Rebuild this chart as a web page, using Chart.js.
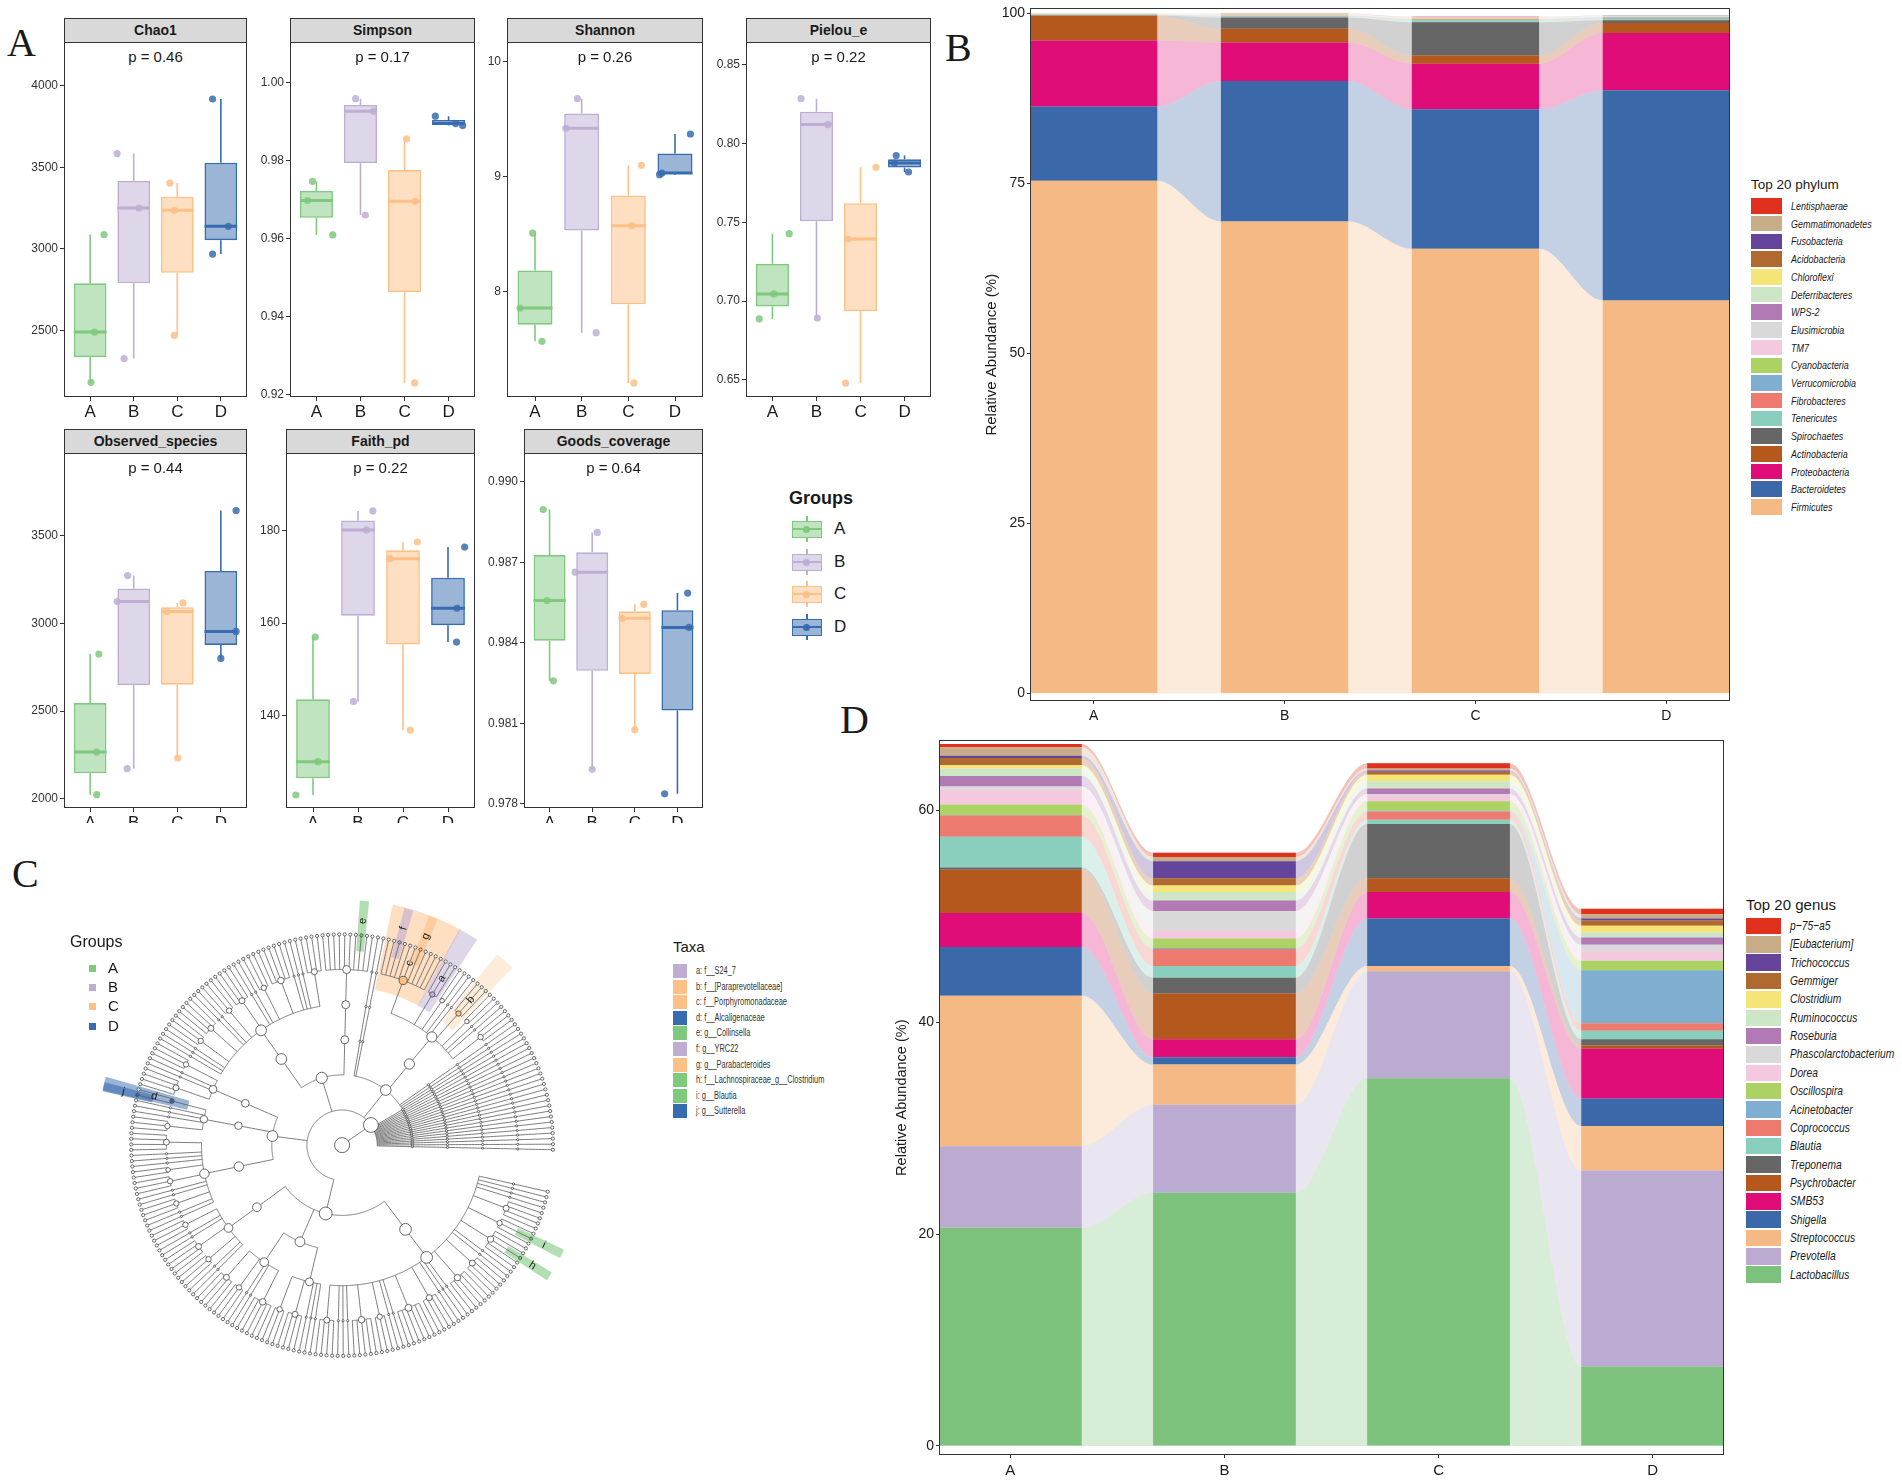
<!DOCTYPE html>
<html>
<head>
<title>Alpha diversity, community composition and LEfSe</title>
<script src="https://cdn.jsdelivr.net/npm/chart.js"></script>
<style>
    body { margin: 0; background: #fff; }
    #page { position: relative; width: 1902px; height: 1481px; overflow: hidden; background: #fff;
            font-family: "Liberation Sans", Arial, sans-serif; color: #1a1a1a; }
    #page canvas { position: absolute; }
    .txt { position: absolute; white-space: nowrap; }
    .letter { position: absolute; font-family: "Liberation Serif", "DejaVu Serif", serif; font-size: 40px; line-height: 40px; }
    .strip { position: absolute; box-sizing: border-box; background: #d9d9d9; border: 1px solid #333;
             text-align: center; font-weight: bold; font-size: 14px; line-height: 23px; }
    .key { position: absolute; box-sizing: border-box; }
    .leg { position: absolute; white-space: nowrap; transform-origin: left center; }
</style>
</head>
<body>
<div id="page"></div>
<script>
    Chart.defaults.font.family = '"Liberation Sans", Arial, sans-serif';
    Chart.defaults.color = '#333';

    // ---------------- A: alpha diversity ----------------
    const groups = ['A', 'B', 'C', 'D'];
    const groupColors = ['#7FC97F', '#BEAED4', '#FDC086', '#386CB0'];

    const alphaMetrics = ['Chao1', 'Simpson', 'Shannon', 'Pielou_e', 'Observed_species', 'Faith_pd', 'Goods_coverage'];
    const alphaP = ['0.46', '0.17', '0.26', '0.22', '0.44', '0.22', '0.64'];

    // three samples per group
    const chao1 = [[2184, 2492, 3088], [3584, 3251, 2329], [3404, 3237, 2471], [3918, 3139, 2969]];
    const simpson = [[0.9746, 0.9697, 0.9609], [0.9958, 0.9926, 0.9660], [0.9855, 0.9695, 0.9230], [0.9913, 0.9894, 0.9889]];
    const shannon = [[8.512, 7.861, 7.572], [9.679, 9.421, 7.647], [9.100, 8.576, 7.210], [9.372, 9.033, 9.019]];
    const pielou = [[0.7428, 0.7045, 0.6886], [0.8286, 0.8121, 0.6892], [0.7850, 0.7394, 0.6479], [0.7924, 0.7877, 0.7820]];
    const observed = [[2825, 2266, 2023], [3272, 3124, 2171], [3116, 3068, 2232], [3643, 2954, 2800]];
    const faith = [[157.0, 130.1, 122.9], [184.2, 180.1, 143.1], [177.5, 173.9, 136.9], [176.4, 163.2, 155.9]];
    const goods = [[0.98896, 0.98557, 0.98258], [0.98811, 0.98663, 0.97928], [0.98543, 0.98491, 0.98076], [0.98585, 0.98457, 0.97837]];

    // horizontal jitter of each dot, in category units
    const chao1Jit = [[0.02, 0.10, 0.32], [-0.38, 0.12, -0.22], [-0.17, -0.07, -0.07], [-0.19, 0.17, -0.19]];
    const simpsonJit = [[-0.09, -0.20, 0.37], [-0.11, 0.30, 0.11], [0.05, 0.24, 0.23], [-0.30, 0.16, 0.32]];
    const shannonJit = [[-0.05, -0.32, 0.15], [-0.09, -0.34, 0.31], [0.28, 0.07, 0.12], [0.33, -0.28, -0.33]];
    const pielouJit = [[0.38, 0.03, -0.30], [-0.35, 0.26, 0.02], [0.35, -0.29, -0.34], [-0.19, -0.23, 0.09]];
    const observedJit = [[0.20, 0.15, 0.15], [-0.14, -0.38, -0.15], [0.13, -0.24, 0.01], [0.35, 0.35, 0.0]];
    const faithJit = [[0.05, 0.11, -0.38], [0.33, 0.19, -0.10], [0.32, -0.29, 0.16], [0.37, 0.20, 0.19]];
    const goodsJit = [[-0.15, -0.06, 0.09], [0.12, -0.40, 0.0], [0.21, -0.30, 0.0], [0.24, 0.27, -0.30]];

    const alphaTicks = [
        [2500, 3000, 3500, 4000], [0.92, 0.94, 0.96, 0.98, 1.00], [8, 9, 10], [0.65, 0.70, 0.75, 0.80, 0.85],
        [2000, 2500, 3000, 3500], [140, 160, 180], [0.978, 0.981, 0.984, 0.987, 0.990]
    ];
    const alphaTickLabels = [
        ['2500', '3000', '3500', '4000'], ['0.92', '0.94', '0.96', '0.98', '1.00'], ['8', '9', '10'],
        ['0.65', '0.70', '0.75', '0.80', '0.85'], ['2000', '2500', '3000', '3500'], ['140', '160', '180'],
        ['0.978', '0.981', '0.984', '0.987', '0.990']
    ];
    const alphaRange = [[2094, 4267], [0.9194, 1.0103], [7.088, 10.171], [0.6390, 0.8646], [1947, 3971], [120.1, 196.7], [0.97784, 0.99107]];

    // ---------------- B: phylum composition (bottom of stack first) ----------------
    const phylumNames = ['Firmicutes', 'Bacteroidetes', 'Proteobacteria', 'Actinobacteria', 'Spirochaetes', 'Tenericutes',
        'Fibrobacteres', 'Verrucomicrobia', 'Cyanobacteria', 'TM7', 'Elusimicrobia', 'WPS-2', 'Deferribacteres',
        'Chloroflexi', 'Acidobacteria', 'Fusobacteria', 'Gemmatimonadetes', 'Lentisphaerae'];
    const phylumColors = ['#F4B984', '#3B68A8', '#E00C77', '#B4581E', '#666666', '#8ACEBE', '#EC7A6E', '#80AED0',
        '#ACD264', '#F4C8DE', '#D9D9D9', '#B27AB4', '#CCE6C6', '#F5E478', '#B06A30', '#65459B', '#C8AE88', '#E0301E'];
    const phylumA = [75.4, 10.9, 9.7, 3.66, 0.03, 0.05, 0.02, 0.02, 0.06, 0.06, 0.01, 0.01, 0.01, 0.01, 0.01, 0.01, 0.01, 0.01];
    const phylumB = [69.4, 20.65, 5.65, 2.05, 1.65, 0.1, 0.05, 0.05, 0.1, 0.1, 0.08, 0.02, 0.02, 0.01, 0.01, 0.01, 0.01, 0.01];
    const phylumC = [65.4, 20.5, 6.7, 1.2, 4.9, 0.3, 0.1, 0.05, 0.1, 0.1, 0.05, 0.02, 0.02, 0.01, 0.01, 0.01, 0.01, 0.01];
    const phylumD = [57.8, 30.9, 8.4, 1.5, 0.4, 0.2, 0.1, 0.1, 0.05, 0.1, 0.05, 0.02, 0.02, 0.01, 0.01, 0.01, 0.01, 0.01];

    // ---------------- D: genus composition (bottom of stack first) ----------------
    const genusNames = ['Lactobacillus', 'Prevotella', 'Streptococcus', 'Shigella', 'SMB53', 'Psychrobacter', 'Treponema',
        'Blautia', 'Coprococcus', 'Acinetobacter', 'Oscillospira', 'Dorea', 'Phascolarctobacterium', 'Roseburia',
        'Ruminococcus', 'Clostridium', 'Gemmiger', 'Trichococcus', '[Eubacterium]', 'p\u221275\u2212a5'];
    const genusColors = ['#7DC27C', '#BBABD0', '#F4B984', '#3B68A8', '#E00C77', '#B4581E', '#666666', '#8ACEBE',
        '#EC7A6E', '#80AED0', '#ACD264', '#F4C8DE', '#D9D9D9', '#B27AB4', '#CCE6C6', '#F5E478', '#B06A30', '#65459B',
        '#C8AE88', '#E0301E'];
    const genusA = [20.6, 7.7, 14.2, 4.6, 3.2, 4.1, 0.2, 2.9, 2.0, 0.05, 1.0, 1.4, 0.3, 1.0, 0.7, 0.3, 0.7, 0.2, 0.8, 0.3];
    const genusB = [23.9, 8.3, 3.8, 0.7, 1.7, 4.3, 1.5, 1.1, 1.6, 0.1, 0.9, 0.7, 1.9, 1.0, 0.8, 0.6, 0.7, 1.6, 0.4, 0.4];
    const genusC = [34.7, 10.1, 0.5, 4.5, 2.5, 1.3, 5.1, 0.4, 0.8, 0.05, 0.9, 0.6, 0.1, 0.5, 0.7, 0.6, 0.3, 0.1, 0.2, 0.5];
    const genusD = [7.5, 18.5, 4.2, 2.6, 4.7, 0.3, 0.6, 0.8, 0.7, 5.0, 0.9, 0.9, 0.6, 0.7, 0.5, 0.6, 0.5, 0.2, 0.4, 0.5];

    // ---------------- C: LEfSe cladogram ----------------
    // an array is a node one rank deeper; a number n stands for n unbranched lineages down to genus
    const fanPhyla = 22;
    const bacteroidetesTree = [3, [[[3], 2, [2], [3], 2, [2], [3], [11]]], 2];
    const actinoTree = [[[[10]]], [[[4], 3, [5], [3], 2, [4], [3], 2, [4], [3], 3]]];
    const proteoTree = [[[[3], 2, [4]]], [[[2], 3, [3]]], [[[4], 3, [2], [3], 2, [3], 2]]];
    const firmicutesTree = [[[[3], 2, [4], [3], 2]], [[[4], [3], 2, [5]], [[3], [4], 3]],
        [[[4], 3, [5], [3], 2, [6], [4], 3, [5], [4], 2, [5], [3], [4], 4]]];
    const bacteriaTree = [fanPhyla, bacteroidetesTree, actinoTree, proteoTree, firmicutesTree];

    const taxaKeys = ['a', 'b', 'c', 'd', 'e', 'f', 'g', 'h', 'i', 'j'];
    const taxaNames = ['f__S24_7', 'f__[Paraprevotellaceae]', 'f__Porphyromonadaceae', 'f__Alcaligenaceae',
        'g__Collinsella', 'g__YRC22', 'g__Parabacteroides', 'f__Lachnospiraceae_g__Clostridium', 'g__Blautia', 'g__Sutterella'];
    const taxaGroup = [1, 2, 2, 3, 0, 1, 2, 0, 0, 3];
    const taxaLeaf = [39, 32, 42, 110, 57, 50, 46, 218, 222, 111];
    const taxaRank = [5, 5, 5, 5, 6, 6, 6, 6, 6, 6];

    // ================= helpers =================
    const page = document.getElementById('page');

    function hexA(hex, a) {
        const n = parseInt(hex.slice(1), 16);
        return 'rgba(' + (n >> 16) + ',' + ((n >> 8) & 255) + ',' + (n & 255) + ',' + a + ')';
    }

    function addDiv(parent, cls, css, text) {
        const d = document.createElement('div');
        d.className = cls;
        Object.assign(d.style, css);
        if (text !== undefined) d.textContent = text;
        parent.appendChild(d);
        return d;
    }

    function makeCanvas(parent, w, h) {
        const c = document.createElement('canvas');
        c.width = w;
        c.height = h;
        c.style.width = w + 'px';
        c.style.height = h + 'px';
        parent.appendChild(c);
        return c;
    }

    // resize the canvas until the plot area has the wanted size, then move it into place
    function fitChart(chart, area) {
        for (let i = 0; i < 3; i++) {
            const a = chart.chartArea;
            const w = Math.round(chart.width + area.w - (a.right - a.left));
            const h = Math.round(chart.height + area.h - (a.bottom - a.top));
            if (w === chart.width && h === chart.height) break;
            chart.resize(w, h);
        }
        const a = chart.chartArea;
        chart.canvas.style.left = (area.x - a.left) + 'px';
        chart.canvas.style.top = (area.y - a.top) + 'px';
    }

    const framePlugin = {
        id: 'frame',
        afterDraw(chart, args, opts) {
            if (!opts.color) return;
            const a = chart.chartArea, ctx = chart.ctx;
            ctx.save();
            ctx.strokeStyle = opts.color;
            ctx.lineWidth = 1;
            ctx.strokeRect(Math.round(a.left) + 0.5, Math.round(a.top) + 0.5,
                Math.round(a.right - a.left) - 1, Math.round(a.bottom - a.top) - 1);
            ctx.restore();
        }
    };

    const baseOptions = {
        responsive: false, maintainAspectRatio: false, animation: false, devicePixelRatio: 1, events: [],
        plugins: {legend: {display: false}, tooltip: {enabled: false}, frame: {color: '#333'}}
    };

    // ================= panel letters =================
    addDiv(page, 'letter', {left: '7px', top: '23px'}, 'A');
    addDiv(page, 'letter', {left: '945px', top: '28px'}, 'B');
    addDiv(page, 'letter', {left: '12px', top: '854px'}, 'C');
    addDiv(page, 'letter', {left: '840px', top: '700px'}, 'D');

    // ================= A: boxplots =================
    const alphaValues = [chao1, simpson, shannon, pielou, observed, faith, goods];
    const alphaJitter = [chao1Jit, simpsonJit, shannonJit, pielouJit, observedJit, faithJit, goodsJit];
    const alphaBoxes = [
        {x: 64, y: 18, w: 183}, {x: 290, y: 18, w: 185}, {x: 507, y: 18, w: 196}, {x: 746, y: 18, w: 185},
        {x: 64, y: 429, w: 183}, {x: 286, y: 429, w: 189}, {x: 524, y: 429, w: 179}
    ];
    const STRIP_H = 24, PLOT_H = 355;

    const row2 = addDiv(page, 'txt', {left: '0px', top: '0px', width: '960px', height: '823px', overflow: 'hidden'});

    alphaBoxes.forEach((b, k) => {
        const holder = k < 4 ? page : row2;
        addDiv(page, 'strip', {left: b.x + 'px', top: b.y + 'px', width: b.w + 'px', height: (STRIP_H + 1) + 'px'}, alphaMetrics[k]);
        addDiv(page, 'txt', {left: b.x + 'px', width: b.w + 'px', top: (b.y + STRIP_H + 6) + 'px', textAlign: 'center',
            fontSize: '15px', lineHeight: '18px'}, 'p = ' + alphaP[k]);

        const st = alphaValues[k].map(v => {
            const s = v.slice().sort((p, q) => p - q);
            return {lo: s[0], med: s[1], hi: s[2], q1: (s[0] + s[1]) / 2, q3: (s[1] + s[2]) / 2};
        });
        const datasets = [];
        st.forEach((s, i) => {
            datasets.push({
                type: 'line', order: 4, borderColor: groupColors[i], borderWidth: 1.6, pointRadius: 0,
                data: [{x: i + 1, y: s.hi}, {x: i + 1, y: s.q3}, {x: i + 1, y: null}, {x: i + 1, y: s.q1}, {x: i + 1, y: s.lo}]
            });
        });
        datasets.push({
            type: 'bar', order: 3, grouped: false, barPercentage: 0.75, categoryPercentage: 1,
            data: st.map((s, i) => ({x: i + 1, y: [s.q1, s.q3]})),
            backgroundColor: groupColors.map(c => hexA(c, 0.5)), borderColor: groupColors, borderWidth: 1.6, borderSkipped: false
        });
        st.forEach((s, i) => {
            datasets.push({
                type: 'line', order: 2, borderColor: groupColors[i], borderWidth: 3, pointRadius: 0,
                data: [{x: i + 0.625, y: s.med}, {x: i + 1.375, y: s.med}]
            });
        });
        const pts = [], ptCol = [];
        alphaValues[k].forEach((v, i) => v.forEach((val, j) => {
            pts.push({x: i + 1 + alphaJitter[k][i][j], y: val});
            ptCol.push(hexA(groupColors[i], 0.85));
        }));
        datasets.push({type: 'scatter', order: 1, data: pts, pointRadius: 3.6, pointBackgroundColor: ptCol, pointBorderWidth: 0});

        const cv = makeCanvas(holder, 56 + b.w + 8, 10 + PLOT_H + 30);
        const chart = new Chart(cv, {
            type: 'bar',
            data: {datasets},
            options: Object.assign({}, baseOptions, {
                layout: {padding: {top: 10, right: 8, left: 0, bottom: 0}},
                scales: {
                    x: {
                        type: 'linear', offset: false, min: 0.4, max: 4.6,
                        afterBuildTicks: s => { s.ticks = [1, 2, 3, 4].map(v => ({value: v})); },
                        afterFit: s => { s.height = 30; },
                        ticks: {autoSkip: false, maxRotation: 0, padding: 1, color: '#1a1a1a', font: {size: 17},
                            callback: v => groups[v - 1]},
                        grid: {display: true, drawOnChartArea: false, tickLength: 4, color: '#333', offset: false},
                        border: {display: false}
                    },
                    y: {
                        type: 'linear', min: alphaRange[k][0], max: alphaRange[k][1],
                        afterBuildTicks: s => { s.ticks = alphaTicks[k].map(v => ({value: v})); },
                        afterFit: s => { s.width = 56; },
                        ticks: {padding: 2, color: '#333', font: {size: 12},
                            callback: (v, i) => alphaTickLabels[k][i]},
                        grid: {display: true, drawOnChartArea: false, tickLength: 4, color: '#333'},
                        border: {display: false}
                    }
                }
            }),
            plugins: [framePlugin]
        });
        fitChart(chart, {x: b.x, y: b.y + STRIP_H, w: b.w, h: PLOT_H});
    });

    // legend of panel A
    addDiv(page, 'txt', {left: '789px', top: '487px', fontSize: '18px', fontWeight: 'bold', lineHeight: '22px'}, 'Groups');
    [529, 562, 594, 627].forEach((cy, i) => {
        const c = groupColors[i];
        addDiv(page, 'key', {left: '806px', top: (cy - 13) + 'px', width: '1.6px', height: '26px', background: c});
        addDiv(page, 'key', {left: '792px', top: (cy - 8) + 'px', width: '30px', height: '17px',
            background: '#fff', border: '1.6px solid ' + c});
        addDiv(page, 'key', {left: '792px', top: (cy - 8) + 'px', width: '30px', height: '17px',
            background: hexA(c, 0.5), border: '1.6px solid ' + c});
        addDiv(page, 'key', {left: '793px', top: (cy - 1) + 'px', width: '28px', height: '2px', background: c});
        addDiv(page, 'key', {left: '803px', top: (cy - 3.5) + 'px', width: '7px', height: '7px', borderRadius: '50%', background: c});
        addDiv(page, 'txt', {left: '834px', top: (cy - 10) + 'px', fontSize: '17px', lineHeight: '20px'}, groups[i]);
    });

    // ================= B and D: alluvial stacked bars =================
    function compChart(values, colors, area, yMin, yMax, yTicks, axisW, fonts) {
        const n = colors.length;
        const cum = [];
        for (let k = 0; k <= n; k++) cum.push(values.map(v => v.slice(0, k).reduce((p, q) => p + q, 0)));
        const datasets = [];
        for (let k = 0; k <= n; k++) {
            const pts = [];
            cum[k].forEach((c, g) => { pts.push({x: g + 1 - 1 / 3, y: c}, {x: g + 1 + 1 / 3, y: c}); });
            datasets.push({
                type: 'line', order: 5, data: pts, borderWidth: 0, pointRadius: 0, cubicInterpolationMode: 'monotone',
                fill: k === 0 ? false : '-1', backgroundColor: k === 0 ? 'rgba(0,0,0,0)' : hexA(colors[k - 1], 0.3)
            });
        }
        for (let k = 0; k < n; k++) {
            datasets.push({
                type: 'bar', order: 1, grouped: false, barPercentage: 2 / 3, categoryPercentage: 1, borderWidth: 0,
                backgroundColor: colors[k], data: cum[k].map((c, g) => ({x: g + 1, y: [c, cum[k + 1][g]]}))
            });
        }
        const cv = makeCanvas(page, axisW + area.w + 10, area.h + 40);
        const chart = new Chart(cv, {
            type: 'bar',
            data: {datasets},
            options: Object.assign({}, baseOptions, {
                layout: {padding: {top: 10, right: 10, left: 0, bottom: 0}},
                scales: {
                    x: {
                        type: 'linear', offset: false, min: 2 / 3, max: 4 + 1 / 3,
                        afterBuildTicks: s => { s.ticks = [1, 2, 3, 4].map(v => ({value: v})); },
                        afterFit: s => { s.height = 28; },
                        ticks: {autoSkip: false, maxRotation: 0, padding: fonts.xPad, color: '#1a1a1a', font: {size: fonts.x},
                            callback: v => groups[v - 1]},
                        grid: {display: true, drawOnChartArea: false, tickLength: 3, color: '#333', offset: false},
                        border: {display: false}
                    },
                    y: {
                        type: 'linear', min: yMin, max: yMax,
                        afterBuildTicks: s => { s.ticks = yTicks.map(v => ({value: v})); },
                        afterFit: s => { s.width = axisW; },
                        ticks: {padding: 2, color: '#1a1a1a', font: {size: fonts.y}, callback: v => String(v)},
                        grid: {display: true, drawOnChartArea: false, tickLength: 3, color: '#333'},
                        border: {display: false},
                        title: {display: true, text: 'Relative Abundance (%)', color: '#1a1a1a', font: {size: fonts.title},
                            padding: {top: 4, bottom: 0}}
                    }
                }
            }),
            plugins: [framePlugin]
        });
        fitChart(chart, area);
    }

    compChart([phylumA, phylumB, phylumC, phylumD], phylumColors, {x: 1030, y: 8, w: 700, h: 693},
        -1.1, 100.73, [0, 25, 50, 75, 100], 51, {x: 14, xPad: 4, y: 14, title: 15});
    compChart([genusA, genusB, genusC, genusD], genusColors, {x: 939, y: 740, w: 785, h: 715},
        -0.85, 66.6, [0, 20, 40, 60], 50, {x: 15, xPad: 4, y: 14, title: 14.5});

    function compLegend(title, names, colors, x, y0, step, kw, kh, titleSize, itemSize, squeeze) {
        addDiv(page, 'txt', {left: x + 'px', top: (y0 - step - 12) + 'px', fontSize: titleSize + 'px', lineHeight: '18px'}, title);
        for (let i = 0; i < names.length; i++) {
            const k = names.length - 1 - i;
            const cy = y0 + i * step;
            addDiv(page, 'key', {left: x + 'px', top: (cy - kh / 2) + 'px', width: kw + 'px', height: kh + 'px', background: colors[k]});
            addDiv(page, 'leg', {left: (x + kw + 9) + 'px', top: (cy - 8) + 'px', lineHeight: '16px', fontSize: itemSize + 'px',
                fontStyle: 'italic', transform: 'scaleX(' + squeeze + ')'}, names[k]);
        }
    }
    compLegend('Top 20 phylum', phylumNames, phylumColors, 1751, 206, 17.7, 31, 15.5, 13.5, 11.5, 0.78);
    compLegend('Top 20 genus', genusNames, genusColors, 1746, 926, 18.35, 35, 16.5, 15, 13.5, 0.76);

    // ================= C: cladogram =================
    const LEVEL = 36.2;
    const START = -2, N_LEAF = 232, STEP = 350 / N_LEAF;
    const deg = Math.PI / 180;
    const polar = (r, a) => ({x: r * Math.cos(a * deg), y: r * Math.sin(a * deg)});
    let leafCounter = 0;

    function chain(depth) {
        const idx = leafCounter++;
        const angle = START + (idx + 0.5) * STEP;
        let node = {depth: 6, angle, kids: [], first: idx, last: idx};
        for (let d = 5; d >= depth; d--) node = {depth: d, angle, kids: [node], first: idx, last: idx};
        return node;
    }

    function build(item, depth) {
        const kids = [];
        item.forEach(ch => {
            if (Array.isArray(ch)) kids.push(build(ch, depth + 1));
            else for (let i = 0; i < ch; i++) kids.push(chain(depth + 1));
        });
        const angle = kids.reduce((s, k) => s + k.angle, 0) / kids.length;
        return {depth, angle, kids, first: kids[0].first, last: kids[kids.length - 1].last};
    }

    const bacteria = build(bacteriaTree, 1);
    const root = {depth: 0, angle: bacteria.angle, kids: [bacteria], first: bacteria.first, last: bacteria.last};

    const allNodes = [];
    const treeLines = [];
    (function walk(node) {
        allNodes.push(node);
        const r0 = node.depth * LEVEL;
        if (node.kids.length > 1) {
            const angs = node.kids.map(k => k.angle);
            const lo = Math.min(...angs), hi = Math.max(...angs);
            for (let a = lo; a < hi; a += 0.5) treeLines.push(polar(r0, a));
            treeLines.push(polar(r0, hi), {x: 0, y: null});
        }
        node.kids.forEach(k => {
            treeLines.push(polar(r0, k.angle), polar(k.depth * LEVEL, k.angle), {x: 0, y: null});
            walk(k);
        });
    })(root);

    const marked = new Map();
    const highlightSets = [];
    const cladeLabels = [];
    taxaKeys.forEach((key, t) => {
        const node = allNodes.find(nd => nd.depth === taxaRank[t] && nd.first <= taxaLeaf[t] && nd.last >= taxaLeaf[t]);
        if (!node) return;
        marked.set(node, groupColors[taxaGroup[t]]);
        const single = node.first === node.last;
        const a0 = START + (node.first + 0.5) * STEP - (single ? 1.1 : 0.6 * STEP);
        const a1 = START + (node.last + 0.5) * STEP + (single ? 1.1 : 0.6 * STEP);
        const rIn = node.depth * LEVEL - 16, rOut = 252;
        const rMid = (rIn + rOut) / 2;
        const arc = [];
        for (let a = a0; a < a1; a += 0.25) arc.push(polar(rMid, a));
        arc.push(polar(rMid, a1));
        highlightSets.push({
            data: arc, showLine: true, pointRadius: 0, borderCapStyle: 'butt', borderJoinStyle: 'round', clip: false,
            tension: 0.0001,
            borderColor: hexA(groupColors[taxaGroup[t]], key === 'b' ? 0.3 : (taxaRank[t] === 5 ? 0.5 : 0.6)),
            borderWidth: rOut - rIn, order: 3 + (6 - taxaRank[t])
        });
        cladeLabels.push({t: key, r: taxaRank[t] === 5 ? 200 : 232, a: (a0 + a1) / 2});
    });

    const dotData = [], dotR = [], dotFill = [];
    allNodes.forEach(nd => {
        const p = polar(nd.depth * LEVEL, nd.angle);
        dotData.push(p);
        const leaves = nd.last - nd.first + 1;
        dotR.push(nd.depth === 0 ? 7.5 : (leaves === 1 ? (nd.depth === 6 ? 1.6 : 1.1) : 1.5 + 0.75 * Math.log2(leaves)));
        dotFill.push(marked.get(nd) || '#fff');
    });

    const cladeLabelPlugin = {
        id: 'cladeLabels',
        afterDatasetsDraw(chart, args, opts) {
            const ctx = chart.ctx, xs = chart.scales.x, ys = chart.scales.y;
            ctx.save();
            ctx.font = '11px "Liberation Sans", Arial, sans-serif';
            ctx.fillStyle = '#1a1a1a';
            ctx.textAlign = 'center';
            ctx.textBaseline = 'middle';
            (opts.labels || []).forEach(l => {
                const p = polar(l.r, l.a);
                let rot = -l.a * deg;
                const a = ((l.a % 360) + 360) % 360;
                if (a > 90 && a < 270) rot += Math.PI;
                ctx.save();
                ctx.translate(xs.getPixelForValue(p.x), ys.getPixelForValue(p.y));
                ctx.rotate(rot);
                ctx.fillText(l.t, 0, 0);
                ctx.restore();
            });
            ctx.restore();
        }
    };

    const treeCanvas = makeCanvas(page, 570, 560);
    treeCanvas.style.left = '60px';
    treeCanvas.style.top = '870px';
    new Chart(treeCanvas, {
        type: 'scatter',
        data: {
            datasets: highlightSets.concat([
                {data: treeLines, showLine: true, pointRadius: 0, borderColor: '#5a5a5a', borderWidth: 0.8, order: 2,
                    clip: false, tension: 0.0001},
                {data: dotData, pointRadius: dotR, pointBackgroundColor: dotFill, pointBorderColor: '#444',
                    pointBorderWidth: 0.8, order: 1, clip: false}
            ])
        },
        options: Object.assign({}, baseOptions, {
            plugins: {legend: {display: false}, tooltip: {enabled: false}, cladeLabels: {labels: cladeLabels}},
            layout: {padding: 0},
            elements: {line: {capBezierPoints: false}},
            scales: {
                x: {type: 'linear', min: -282, max: 288, display: false},
                y: {type: 'linear', min: -285, max: 275, display: false}
            }
        }),
        plugins: [cladeLabelPlugin]
    });

    // legends of panel C
    addDiv(page, 'txt', {left: '70px', top: '932px', fontSize: '16px', lineHeight: '20px'}, 'Groups');
    [968, 987, 1006, 1026].forEach((cy, i) => {
        addDiv(page, 'key', {left: '89px', top: (cy - 3.5) + 'px', width: '7px', height: '7px', background: groupColors[i]});
        addDiv(page, 'txt', {left: '108px', top: (cy - 9) + 'px', fontSize: '15px', lineHeight: '18px'}, groups[i]);
    });
    addDiv(page, 'txt', {left: '673px', top: '938px', fontSize: '15px', lineHeight: '18px'}, 'Taxa');
    taxaKeys.forEach((key, t) => {
        const cy = 971 + t * 15.6;
        addDiv(page, 'key', {left: '673px', top: (cy - 7) + 'px', width: '14px', height: '14px', background: groupColors[taxaGroup[t]]});
        addDiv(page, 'leg', {left: '696px', top: (cy - 7) + 'px', fontSize: '10px', lineHeight: '14px', color: '#333',
            transform: 'scaleX(0.74)'}, key + ': ' + taxaNames[t]);
    });
</script>
</body>
</html>
